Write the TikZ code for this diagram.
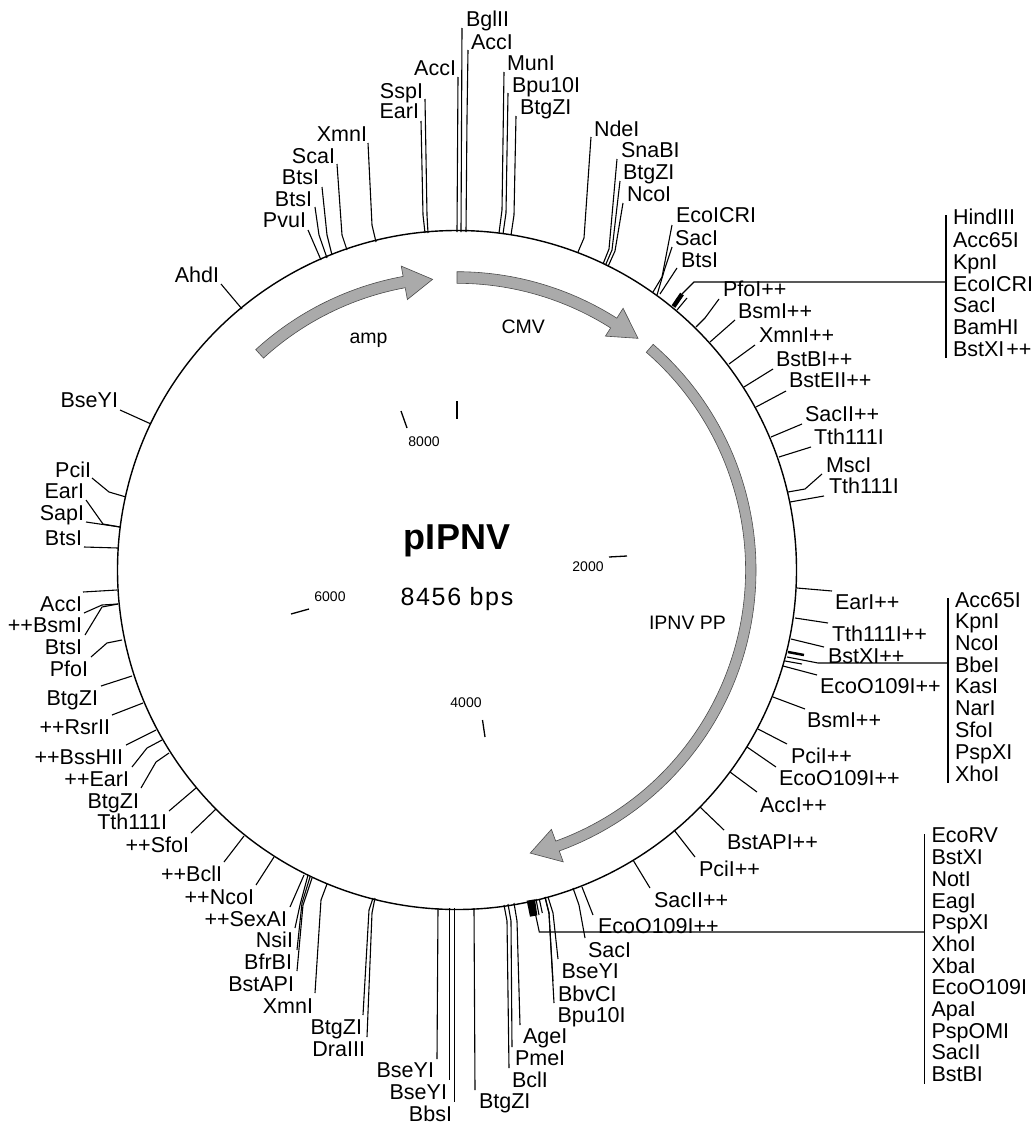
\documentclass[tikz,border=0pt]{standalone}
\usepackage{fontspec}
\setmainfont{Liberation Sans}
\newfontfamily\spacedfont[LetterSpace=6.5]{Liberation Sans}
\usepackage{tikz}
\definecolor{featgris}{RGB}{170,170,170}
% [via--]{id}{anchor}{text}{label at}{rim}{free end}
\newcommand{\cutsite}[7][]{%
    \node[sitetxt,anchor=#3] (#2) at (#5) {#4};
    \coordinate (#2r) at (#6);
    \coordinate (#2e) at (#7);
    \draw[sitelink] (#2r) -- #1 (#2e);%
}
% start, base, tip, r in, r out, head in, head out, r tip (angles clockwise from east)
\newcommand{\featarrow}[8]{%
    \draw[feat] (#1:#5) arc (#1:#2:#5) -- (#2:#7) -- (#3:#8) -- (#2:#6) -- (#2:#4) arc (#2:#1:#4) -- cycle;%
}

\begin{document}
\begin{tikzpicture}[x=1pt, y=-1pt, line width=1.1pt,
    sitetxt/.style={inner sep=0pt, outer sep=0pt, font=\fontsize{21.5}{24}\selectfont},
    listtxt/.style={sitetxt, anchor=base west},
    sitelink/.style={line width=1.1pt, line join=round},
    feat/.style={fill=featgris, draw=black!70, line width=0.6pt},
    featxt/.style={inner sep=0pt, anchor=base west, font=\fontsize{19.5}{22}\selectfont},
    ticktxt/.style={inner sep=0pt, font=\fontsize{14}{16}\selectfont},
    tickline/.style={line width=1.3pt}]
    \useasboundingbox (0,0) rectangle (1033,1135);
    % ring
    \coordinate (centro) at (457,570);
    \draw[line width=1.4pt] (centro) circle (339.5);
    % features
    \begin{scope}[shift={(centro)}]
        \featarrow{-132.4}{-100.4}{-94.8}{287}{298.5}{275}{309}{291.7}
        \featarrow{-90}{-57.6}{-52}{286.7}{298.3}{277}{310}{294}
        \featarrow{-49}{70}{75.5}{288.5}{299}{276}{310.6}{292.4}
    \end{scope}
    \node[featxt] (amp) at (349,343) {amp};
    \node[featxt] (cmv) at (501,333) {CMV};
    \node[featxt] (ipnvpp) at (648.5,629) {IPNV PP};
    % title
    \node[inner sep=0pt, anchor=base, font=\fontsize{36}{40}\selectfont\bfseries] (titulo) at (457,549) {pIPNV};
    \node[inner sep=0pt, anchor=base, font=\fontsize{25}{28}\spacedfont] (pares) at (457,605) {8456 bps};
    % scale ticks
    \coordinate (t0a) at (457,401); \coordinate (t0b) at (457,419);
    \draw[tickline] (t0a) -- (t0b);
    \coordinate (t8a) at (401,411); \coordinate (t8b) at (407,428);
    \draw[tickline] (t8a) -- (t8b);
    \node[ticktxt] (t8000) at (424,442) {8000};
    \coordinate (t2a) at (609,557); \coordinate (t2b) at (627,556);
    \draw[tickline] (t2a) -- (t2b);
    \node[ticktxt] (t2000) at (588,567) {2000};
    \coordinate (t6a) at (291,614); \coordinate (t6b) at (309,609);
    \draw[tickline] (t6a) -- (t6b);
    \node[ticktxt] (t6000) at (330,597) {6000};
    \coordinate (t4a) at (482.5,720); \coordinate (t4b) at (485,737);
    \draw[tickline] (t4a) -- (t4b);
    \node[ticktxt] (t4000) at (466,703) {4000};
    % sites, top
    \cutsite{pvu}{base east}{PvuI}{306,227}{321,260}{308,230}
    \cutsite[(319,235)--]{btsa}{base east}{BtsI}{312,206}{327,258}{315,207}
    \cutsite[(327,235)--]{btsb}{base east}{BtsI}{319,184}{332,255}{322,187}
    \cutsite[(342,235)--]{sca}{base east}{ScaI}{335,163}{347,250}{337,164}
    \cutsite[(372,225)--]{xmna}{base east}{XmnI}{367,141}{376,242}{368,143}
    \cutsite[(423,215)--]{eara}{base east}{EarI}{419,118}{425,233}{421,121}
    \cutsite[(427,215)--]{ssp}{base east}{SspI}{423,98}{428,233}{425,99}
    \cutsite{acca}{base east}{AccI}{456,75}{457,232}{458,77}
    \cutsite{bgl}{base west}{BglII}{466,27}{461,232}{462,28}
    \cutsite[(467,118)--]{accb}{base west}{AccI}{471,49}{466,232}{468,50}
    \cutsite[(502,210)--]{mun}{base west}{MunI}{507,70}{499,233}{504,72}
    \cutsite[(506,213)--]{bpua}{base west}{Bpu10I}{512,92}{503,234}{508,93}
    \cutsite[(514,215)--]{btga}{base west}{BtgZI}{520,114}{511,235}{516,116}
    \cutsite[(584,238)--]{nde}{base west}{NdeI}{594,136}{578,252}{591,137}
    \cutsite[(609,249)--]{sna}{base west}{SnaBI}{621,157}{603,264}{617,159}
    \cutsite[(612,250)--]{btgb}{base west}{BtgZI}{623,179}{605.5,265}{620,181}
    \cutsite[(615,251)--]{ncoa}{base west}{NcoI}{627,201}{608,266.5}{623,203}
    \cutsite[(662,277)--]{ecoi}{base west}{EcoICRI}{676,222}{653,292}{672,225}
    \cutsite[(665,268)--]{saca}{base west}{SacI}{675,245}{657,295}{672,247}
    \cutsite{btsc}{base west}{BtsI}{681,267}{660,294}{677,268}
    % sites, right
    \cutsite[(705,318)--]{pfoa}{base west}{PfoI++}{723,296}{696,327}{719,299}
    \cutsite{bsma}{base west}{BsmI++}{738,318}{710,342}{735,320}
    \cutsite{xmnb}{base west}{XmnI++}{759,342}{729,364}{755,345}
    \cutsite{bstb}{base west}{BstBI++}{776,366}{744,387}{773,369}
    \cutsite{bste}{base west}{BstEII++}{789,387}{756,407}{786,391}
    \cutsite{sacb}{base west}{SacII++}{805,421}{771,437}{802,424}
    \cutsite{ttha}{base west}{Tth111I}{814,444}{779,457}{811,447}
    \cutsite[(805,489)--]{msc}{base west}{MscI}{826,472}{788,492}{822,474}
    \cutsite{tthb}{base west}{Tth111I}{829,493}{790,502}{824,496}
    \cutsite{earb}{base west}{EarI++}{835,609}{797,588}{832,591}
    \cutsite{tthc}{base west}{Tth111I++}{832,641}{795,618}{828,623}
    \cutsite{bstxa}{base west}{BstXI++}{828,663}{791,639}{824,647}
    \cutsite{ecoa}{base west}{EcoO109I++}{820,693}{783,666}{817,675}
    \cutsite{bsmb}{base west}{BsmI++}{807,727}{773,697}{805,709}
    \cutsite{pcia}{base west}{PciI++}{791,763}{758,729}{787,744}
    \cutsite{ecob}{base west}{EcoO109I++}{779,785}{747,747}{776,767}
    \cutsite{accc}{base west}{AccI++}{760,812}{730,772}{757,792}
    \cutsite{bstapa}{base west}{BstAPI++}{727,849}{700,807}{724,830}
    \cutsite{pcib}{base west}{PciI++}{699,876}{674,830}{695,857}
    \cutsite{sacc}{base west}{SacII++}{654,907}{633,860}{650,888}
    \cutsite{ecoc}{base west}{EcoO109I++}{598,933}{582,887}{593,915}
    % sites, bottom
    \cutsite[(579,905)--]{sacd}{base west}{SacI}{588,957}{573,888}{585,938}
    \cutsite[(553,913)--]{bsea}{base west}{BseYI}{561.5,978}{548,897}{558,959}
    \cutsite[(549,913)--]{bbv}{base west}{BbvCI}{558,1001}{545,897}{553,981}
    \cutsite[(549,913)--]{bpub}{base west}{Bpu10I}{557.5,1022}{545,897}{554,1003}
    \cutsite[(517,921)--]{age}{base west}{AgeI}{523,1043}{514,903}{520,1025}
    \cutsite[(511,921)--]{pme}{base west}{PmeI}{515,1065}{508,904}{512,1047}
    \cutsite[(507,921)--]{bcla}{base west}{BclI}{512,1087}{504,905}{509,1068}
    \cutsite{btgc}{base west}{BtgZI}{479,1108}{474,908}{475,1090}
    \cutsite{bbs}{base east}{BbsI}{452,1121}{454.5,908}{454.5,1102}
    \cutsite{bseb}{base east}{BseYI}{447,1099}{449.5,908}{449.5,1080}
    \cutsite{bsec}{base east}{BseYI}{434,1077}{438,908}{437,1059}
    \cutsite[(372,913)--]{dra}{base east}{DraIII}{365,1056}{375,898}{367,1037}
    \cutsite[(369,910)--]{btgd}{base east}{BtgZI}{362,1034}{373,898}{363,1015}
    \cutsite[(321,900)--]{xmnc}{base east}{XmnI}{313,1013}{327,884}{315,993}
    \cutsite[(303,905)--]{bstapb}{base east}{BstAPI}{294,991}{312,878}{297,971}
    \cutsite[(302,903)--]{bfr}{base east}{BfrBI}{292,969}{310,877}{297,950}
    \cutsite[(300,905)--]{nsi}{base east}{NsiI}{293,947}{308,875}{295,928}
    \cutsite{sex}{base east}{++SexAI}{287,926}{304,875}{290,907}
    \cutsite{ncob}{base east}{++NcoI}{254,904}{274,857}{256,885}
    % sites, left
    \cutsite{bclb}{base east}{++BclI}{222,881}{244,836}{224,862}
    \cutsite{sfo}{base east}{++SfoI}{189,852}{216,809}{191,833}
    \cutsite{tthd}{base east}{Tth111I}{167,829}{196,788}{169,811}
    \cutsite[(156,762)--]{btge}{base east}{BtgZI}{139,808}{169,753}{141,788}
    \cutsite[(147,748)--]{earc}{base east}{++EarI}{129,786}{162,740}{132,767}
    \cutsite{bss}{base east}{++BssHII}{123,764}{156,730}{126,745}
    \cutsite{rsr}{base east}{++RsrII}{110,734}{143,703}{112,715}
    \cutsite{btgf}{base east}{BtgZI}{98,705}{132,676}{101,686}
    \cutsite[(107,643)--]{pfob}{base east}{PfoI}{88,676}{122,640}{91,657}
    \cutsite[(102,607)--]{btsd}{base east}{BtsI}{82,654}{118,604}{85,635}
    \cutsite[(102,605)--]{bsmc}{base east}{++BsmI}{82,632}{118,604}{84,613}
    \cutsite{accd}{base east}{AccI}{82,611}{117,590}{83,592}
    \cutsite{btse}{base east}{BtsI}{82,545}{118,548}{84,547}
    \cutsite{sap}{base east}{SapI}{84,520}{120,527}{86,522}
    \cutsite[(103,524)--]{eard}{base east}{EarI}{84,498}{120,527}{86,500}
    \cutsite[(109,492)--]{pcic}{base east}{PciI}{91,477}{126,497}{92,478}
    \cutsite{bsed}{base east}{BseYI}{118,407}{151,424}{120,410}
    \cutsite{ahd}{base east}{AhdI}{219,282}{242,309}{221,284}
    % list, upper right
    \coordinate (listaa) at (946,215); \coordinate (listab) at (946,358);
    \draw (listaa) -- (listab);
    \node[listtxt] (a1) at (953,224) {HindIII};
    \node[listtxt] (a2) at (953,247) {Acc65I};
    \node[listtxt] (a3) at (953,269) {KpnI};
    \node[listtxt] (a4) at (953,291) {EcoICRI};
    \node[listtxt] (a5) at (953,312) {SacI};
    \node[listtxt] (a6) at (953,334) {BamHI};
    \node[listtxt] (a7) at (953,356) {BstXI\hspace{2pt}++};
    \coordinate (haza) at (673.5,306.5); \coordinate (hazb) at (682,294);
    \draw[line width=4.5pt] (haza) -- (hazb);
    \coordinate (hazc) at (677,310); \coordinate (hazd) at (687,298);
    \draw (hazc) -- (hazd);
    \coordinate (hazl) at (946,282);
    \draw (hazb) -- (694,282) -- (hazl);
    % list, middle right
    \coordinate (listba) at (948,598); \coordinate (listbb) at (948,783);
    \draw (listba) -- (listbb);
    \node[listtxt] (b1) at (955,607) {Acc65I};
    \node[listtxt] (b2) at (955,628) {KpnI};
    \node[listtxt] (b3) at (955,650) {NcoI};
    \node[listtxt] (b4) at (955,672) {BbeI};
    \node[listtxt] (b5) at (955,693) {KasI};
    \node[listtxt] (b6) at (955,715) {NarI};
    \node[listtxt] (b7) at (955,737) {SfoI};
    \node[listtxt] (b8) at (955,759) {PspXI};
    \node[listtxt] (b9) at (955,781) {XhoI};
    \coordinate (hzba) at (788,652); \coordinate (hzbb) at (804,655);
    \draw[line width=2.5pt] (hzba) -- (hzbb);
    \coordinate (hzbc) at (785,661); \coordinate (hzbd) at (802,664);
    \draw (hzbc) -- (hzbd);
    \coordinate (hzbe) at (787,657); \coordinate (hzbl) at (948,663);
    \draw (hzbe) -- (818,663) -- (hzbl);
    % list, lower right
    \coordinate (listca) at (924.5,834); \coordinate (listcb) at (924.5,1084);
    \draw (listca) -- (listcb);
    \node[listtxt] (c1) at (931.5,842) {EcoRV};
    \node[listtxt] (c2) at (931.5,864) {BstXI};
    \node[listtxt] (c3) at (931.5,886) {NotI};
    \node[listtxt] (c4) at (931.5,908) {EagI};
    \node[listtxt] (c5) at (931.5,929) {PspXI};
    \node[listtxt] (c6) at (931.5,951) {XhoI};
    \node[listtxt] (c7) at (931.5,973) {XbaI};
    \node[listtxt] (c8) at (931.5,994) {EcoO109I};
    \node[listtxt] (c9) at (931.5,1016) {ApaI};
    \node[listtxt] (c10) at (931.5,1038) {PspOMI};
    \node[listtxt] (c11) at (931.5,1059) {SacII};
    \node[listtxt] (c12) at (931.5,1081) {BstBI};
    \fill (526.7,900.7) -- (535,899.3) -- (537.3,915.3) -- (530,916.7) -- cycle;
    \coordinate (hzca) at (536,899); \coordinate (hzcb) at (539,915);
    \draw (hzca) -- (hzcb);
    \coordinate (hzcc) at (539.3,899); \coordinate (hzcd) at (542.3,913);
    \draw (hzcc) -- (hzcd);
    \coordinate (hzce) at (535,912); \coordinate (hzcl) at (924.5,932);
    \draw (hzce) -- (539.3,932) -- (hzcl);
\end{tikzpicture}
\end{document}
